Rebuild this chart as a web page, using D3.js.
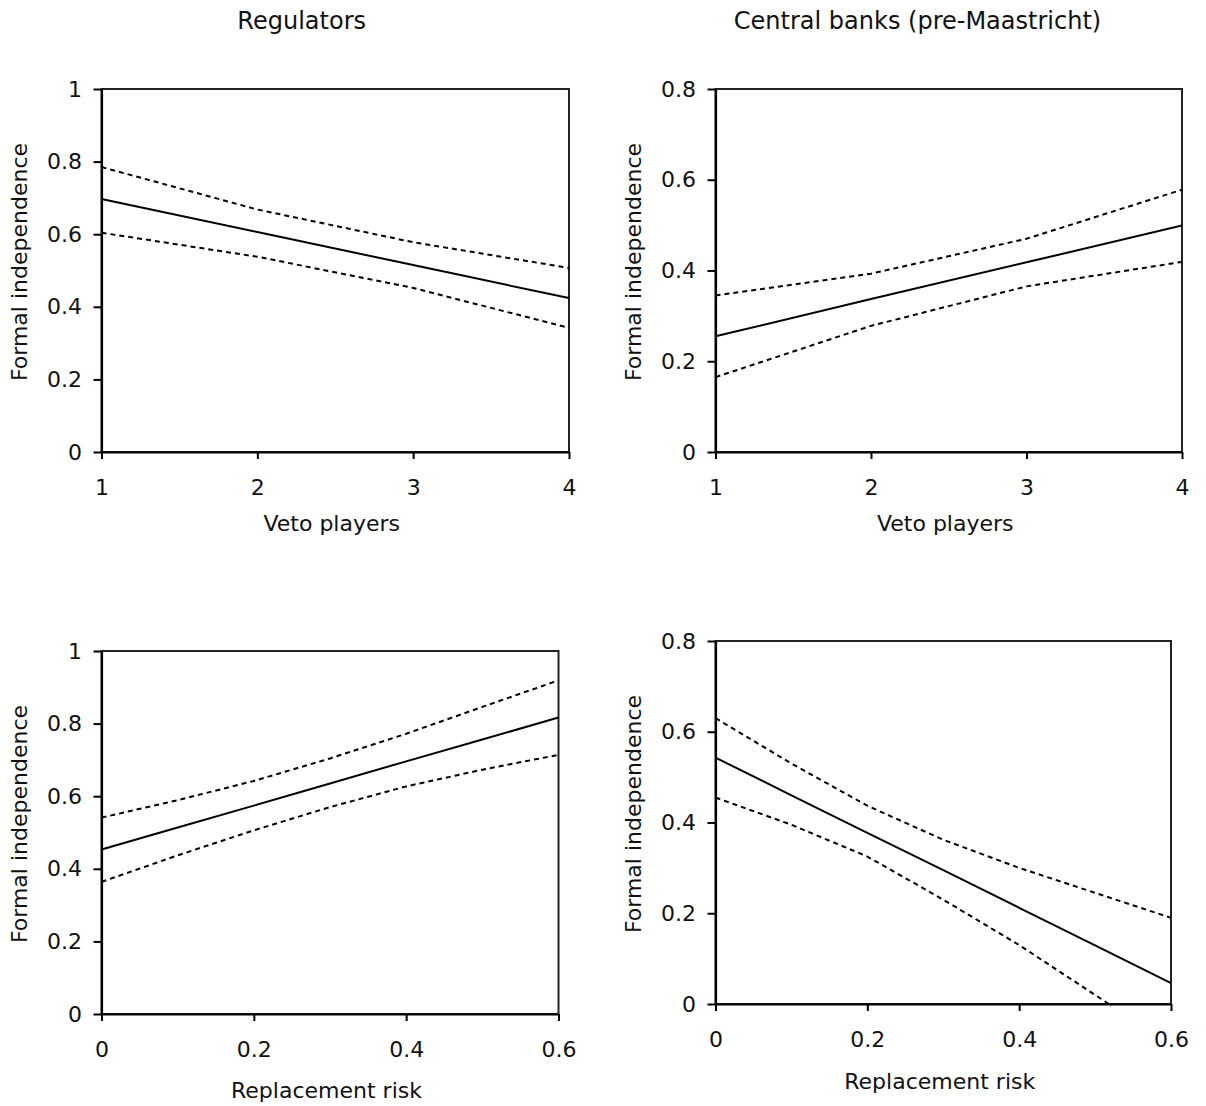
<!DOCTYPE html>
<html>
<head>
<meta charset="utf-8">
<script src="https://cdn.jsdelivr.net/npm/d3@7"></script>
<style>
  html, body { margin: 0; padding: 0; background: #fff; }
  svg { display: block; font-family: "DejaVu Sans", Verdana, sans-serif; }
</style>
</head>
<body>
<svg id="chart" width="1206" height="1106"></svg>
<script>
// ---------- data ----------
const panelTitles = ["Regulators", "Central banks (pre-Maastricht)"];
const yAxisTitle = "Formal independence";
const xTitleVeto = "Veto players";
const xTitleRisk = "Replacement risk";

const vetoX = [1, 2, 3, 4];
const vetoTicks = [1, 2, 3, 4];
const riskX = [0, 0.1, 0.2, 0.3, 0.4, 0.5, 0.6];
const riskTicks = [0, 0.2, 0.4, 0.6];
const yTicksReg = [0, 0.2, 0.4, 0.6, 0.8, 1];
const yTicksCb = [0, 0.2, 0.4, 0.6, 0.8];

// Regulators vs veto players
const regVetoFit = [0.697, 0.606, 0.515, 0.424];
const regVetoHi  = [0.785, 0.668, 0.578, 0.507];
const regVetoLo  = [0.604, 0.538, 0.452, 0.342];

// Central banks vs veto players
const cbVetoFit = [0.255, 0.337, 0.418, 0.499];
const cbVetoHi  = [0.345, 0.393, 0.470, 0.578];
const cbVetoLo  = [0.165, 0.278, 0.365, 0.419];

// Regulators vs replacement risk
const regRiskFit = [0.453, 0.514, 0.574, 0.635, 0.696, 0.756, 0.817];
const regRiskHi  = [0.541, 0.589, 0.642, 0.704, 0.772, 0.846, 0.919];
const regRiskLo  = [0.364, 0.437, 0.506, 0.570, 0.627, 0.673, 0.714];

// Central banks vs replacement risk
const cbRiskFit = [0.543, 0.460, 0.377, 0.295, 0.212, 0.129, 0.046];
const cbRiskHi  = [0.630, 0.530, 0.437, 0.362, 0.300, 0.245, 0.190];
const cbRiskLo  = [0.455, 0.395, 0.325, 0.230, 0.130, 0.020, -0.090];

// ---------- layout ----------
const panels = [
  { l: 101.5, r: 569, t: 89, b: 452, xs: vetoX, xd: [1, 4], xt: vetoTicks, yd: [0, 1], yt: yTicksReg,
    fit: regVetoFit, hi: regVetoHi, lo: regVetoLo, xTitle: xTitleVeto, xTitleY: 531,
    title: panelTitles[0], titleX: 301.7 },
  { l: 715.5, r: 1182, t: 89, b: 452, xs: vetoX, xd: [1, 4], xt: vetoTicks, yd: [0, 0.8], yt: yTicksCb,
    fit: cbVetoFit, hi: cbVetoHi, lo: cbVetoLo, xTitle: xTitleVeto, xTitleY: 531,
    title: panelTitles[1], titleX: 917.5 },
  { l: 101.5, r: 558.5, t: 651, b: 1014, xs: riskX, xd: [0, 0.6], xt: riskTicks, yd: [0, 1], yt: yTicksReg,
    fit: regRiskFit, hi: regRiskHi, lo: regRiskLo, xTitle: xTitleRisk, xTitleY: 1098 },
  { l: 715.5, r: 1171, t: 641, b: 1004, xs: riskX, xd: [0, 0.6], xt: riskTicks, yd: [0, 0.8], yt: yTicksCb,
    fit: cbRiskFit, hi: cbRiskHi, lo: cbRiskLo, xTitle: xTitleRisk, xTitleY: 1089 }
];

const svg = d3.select("#chart");
const fmt = d => String(+(+d).toFixed(1));
const defs = svg.append("defs");

panels.forEach((p, i) => {
  const x = d3.scaleLinear().domain(p.xd).range([p.l, p.r]);
  const y = d3.scaleLinear().domain(p.yd).range([p.b, p.t]);

  defs.append("clipPath").attr("id", "clip" + i)
    .append("rect").attr("x", p.l).attr("y", p.t).attr("width", p.r - p.l).attr("height", p.b - p.t);

  // frame (top/right)
  svg.append("rect")
    .attr("x", p.l).attr("y", p.t).attr("width", p.r - p.l).attr("height", p.b - p.t)
    .attr("fill", "none").attr("stroke", "#222").attr("stroke-width", 2);

  const line = d3.line().x((d, k) => x(p.xs[k])).y(d => y(d));
  const g = svg.append("g").attr("clip-path", `url(#clip${i})`);
  g.append("path").datum(p.hi).attr("d", line).attr("fill", "none")
    .attr("stroke", "#000").attr("stroke-width", 2).attr("stroke-dasharray", "5,4");
  g.append("path").datum(p.lo).attr("d", line).attr("fill", "none")
    .attr("stroke", "#000").attr("stroke-width", 2).attr("stroke-dasharray", "5,4");
  g.append("path").datum(p.fit).attr("d", line).attr("fill", "none")
    .attr("stroke", "#000").attr("stroke-width", 2);

  // axes
  const ya = svg.append("g").attr("transform", `translate(${p.l},0)`)
    .call(d3.axisLeft(y).tickValues(p.yt).tickFormat(fmt).tickSize(8).tickSizeOuter(0).tickPadding(11.5));
  const xa = svg.append("g").attr("transform", `translate(0,${p.b})`)
    .call(d3.axisBottom(x).tickValues(p.xt).tickFormat(fmt).tickSize(7).tickSizeOuter(0).tickPadding(20.4));
  [ya, xa].forEach(a => {
    a.select(".domain").attr("stroke", "#000").attr("stroke-width", 2.2);
    a.selectAll(".tick line").attr("stroke", "#000").attr("stroke-width", 2);
    a.selectAll(".tick text").attr("fill", "#111").style("font-size", "22px")
      .style("font-family", '"DejaVu Sans", Verdana, sans-serif');
  });

  // y axis title
  const cy = (p.t + p.b) / 2 - 8.5;
  svg.append("text")
    .attr("transform", `translate(${p.l - 74.5},${cy}) rotate(-90)`)
    .attr("text-anchor", "middle").attr("fill", "#111").style("font-size", "22px")
    .text(yAxisTitle);

  // x axis title
  svg.append("text")
    .attr("x", (p.l + p.r) / 2 - 3.5).attr("y", p.xTitleY)
    .attr("text-anchor", "middle").attr("fill", "#111").style("font-size", "22px")
    .text(p.xTitle);

  if (p.title) {
    svg.append("text")
      .attr("x", p.titleX).attr("y", 29)
      .attr("text-anchor", "middle").attr("fill", "#111").style("font-size", "24px")
      .text(p.title);
  }
});
</script>
</body>
</html>
